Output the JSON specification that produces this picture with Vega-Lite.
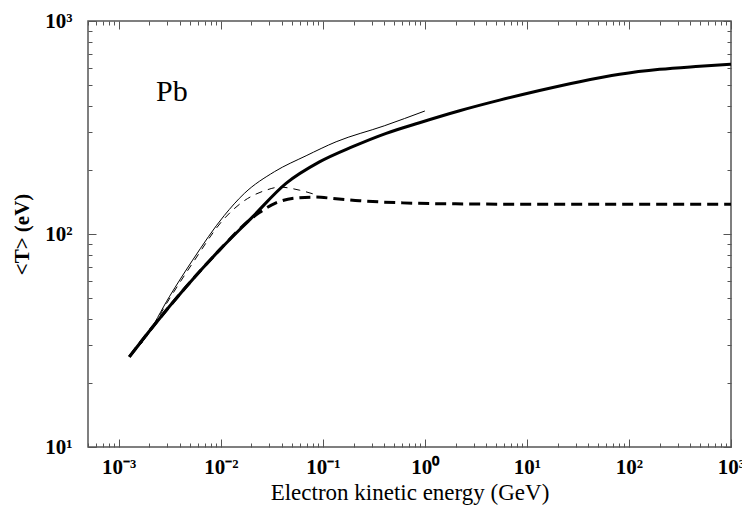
{
  "$schema": "https://vega.github.io/schema/vega-lite/v6.json",
  "width": 643,
  "height": 426,
  "autosize": "none",
  "padding": {"left": 88, "top": 21, "right": 11, "bottom": 64},
  "background": "white",
  "config": {
    "view": {"stroke": "#555", "strokeWidth": 1.5},
    "axis": {
      "grid": false,
      "domain": false,
      "tickColor": "#555",
      "tickWidth": 1,
      "labelFont": "Liberation Serif",
      "titleFont": "Liberation Serif",
      "labelColor": "black",
      "titleColor": "black",
      "labelFlush": false,
      "labelOverlap": false
    }
  },
  "datasets": {
    "thickSolid": [
      {"E": 0.00127, "T": 26.5}, {"E": 0.00215, "T": 36.6}, {"E": 0.00456, "T": 56.4},
      {"E": 0.0097, "T": 84}, {"E": 0.0205, "T": 120.4}, {"E": 0.0436, "T": 172.8},
      {"E": 0.0927, "T": 218}, {"E": 0.196, "T": 257}, {"E": 0.418, "T": 297},
      {"E": 0.887, "T": 333}, {"E": 2.19, "T": 379}, {"E": 5.4, "T": 425},
      {"E": 13.3, "T": 472}, {"E": 32.9, "T": 519}, {"E": 81, "T": 562},
      {"E": 200, "T": 593}, {"E": 494, "T": 613}, {"E": 1000, "T": 627}
    ],
    "thinSolid": [
      {"E": 0.00127, "T": 26.5}, {"E": 0.00185, "T": 32.9}, {"E": 0.00313, "T": 50.7},
      {"E": 0.0053, "T": 75.4}, {"E": 0.0108, "T": 122}, {"E": 0.017, "T": 155},
      {"E": 0.0335, "T": 196}, {"E": 0.0686, "T": 233}, {"E": 0.135, "T": 271},
      {"E": 0.4, "T": 322}, {"E": 1.0, "T": 378}
    ],
    "thickDashed": [
      {"E": 0.00127, "T": 26.5}, {"E": 0.00215, "T": 36.6}, {"E": 0.00456, "T": 56.4},
      {"E": 0.0097, "T": 84}, {"E": 0.019, "T": 116}, {"E": 0.0239, "T": 126},
      {"E": 0.0348, "T": 140}, {"E": 0.0589, "T": 148}, {"E": 0.085, "T": 149},
      {"E": 0.125, "T": 147}, {"E": 0.229, "T": 143.3}, {"E": 0.6, "T": 140},
      {"E": 2, "T": 138.5}, {"E": 10, "T": 138}, {"E": 1000, "T": 138}
    ],
    "thinDashed": [
      {"E": 0.00127, "T": 26.5}, {"E": 0.00185, "T": 32.7}, {"E": 0.00313, "T": 49.5},
      {"E": 0.0053, "T": 73}, {"E": 0.0108, "T": 118}, {"E": 0.0164, "T": 141.6},
      {"E": 0.0278, "T": 160.6}, {"E": 0.0377, "T": 166}, {"E": 0.0592, "T": 160.6},
      {"E": 0.083, "T": 153.5}
    ],
    "label": [{"E": 0.00232, "T": 422, "text": "Pb"}]
  },
  "resolve": {"axis": {"x": "independent", "y": "independent"}},
  "layer": [
    {
      "data": {"name": "thickSolid"},
      "mark": {"type": "line", "color": "black", "strokeWidth": 3, "interpolate": "monotone"},
      "encoding": {
        "x": {
          "field": "E", "type": "quantitative",
          "scale": {"type": "log", "domain": [0.0005, 1000], "nice": false},
          "axis": {
            "orient": "bottom",
            "values": [0.001, 0.01, 0.1, 1, 10, 100, 1000],
            "tickSize": -8,
            "labelFontSize": 21,
            "labelFontWeight": "bold",
            "labelPadding": 17,
            "labelExpr": "datum.value < 0.005 ? '10⁻³' : datum.value < 0.05 ? '10⁻²' : datum.value < 0.5 ? '10⁻¹' : datum.value < 5 ? '10⁰' : datum.value < 50 ? '10¹' : datum.value < 500 ? '10²' : '10³'",
            "title": "Electron kinetic energy (GeV)",
            "titleFontSize": 23,
            "titleFontWeight": "normal",
            "titlePadding": 4
          }
        },
        "y": {
          "field": "T", "type": "quantitative",
          "scale": {"type": "log", "domain": [10, 1000], "nice": false},
          "axis": {
            "orient": "left",
            "values": [10, 100, 1000],
            "tickSize": -8,
            "labelFontSize": 21,
            "labelFontWeight": "bold",
            "labelPadding": 24,
            "labelExpr": "datum.value < 50 ? '10¹' : datum.value < 500 ? '10²' : '10³'",
            "title": "<T> (eV)",
            "titleFontSize": 21,
            "titleFontWeight": "bold",
            "titlePadding": 12
          }
        }
      }
    },
    {
      "data": {"name": "thinSolid"},
      "mark": {"type": "line", "color": "black", "strokeWidth": 1, "interpolate": "monotone"},
      "encoding": {
        "x": {
          "field": "E", "type": "quantitative",
          "scale": {"type": "log", "domain": [0.0005, 1000], "nice": false},
          "axis": {
            "orient": "bottom",
            "values": [0.0005, 0.0006, 0.0007, 0.0008, 0.0009,
              0.002, 0.003, 0.004, 0.005, 0.006, 0.007, 0.008, 0.009,
              0.02, 0.03, 0.04, 0.05, 0.06, 0.07, 0.08, 0.09,
              0.2, 0.3, 0.4, 0.5, 0.6, 0.7, 0.8, 0.9,
              2, 3, 4, 5, 6, 7, 8, 9,
              20, 30, 40, 50, 60, 70, 80, 90,
              200, 300, 400, 500, 600, 700, 800, 900],
            "tickSize": -4,
            "labels": false,
            "title": null
          }
        },
        "y": {
          "field": "T", "type": "quantitative",
          "scale": {"type": "log", "domain": [10, 1000], "nice": false},
          "axis": {
            "orient": "left",
            "values": [20, 30, 40, 50, 60, 70, 80, 90, 200, 300, 400, 500, 600, 700, 800, 900],
            "tickSize": -4,
            "labels": false,
            "title": null
          }
        }
      }
    },
    {
      "data": {"name": "thickDashed"},
      "mark": {"type": "line", "color": "black", "strokeWidth": 3, "strokeDash": [11, 6], "interpolate": "monotone"},
      "encoding": {
        "x": {
          "field": "E", "type": "quantitative",
          "scale": {"type": "log", "domain": [0.0005, 1000], "nice": false},
          "axis": {
            "orient": "top",
            "values": [0.001, 0.01, 0.1, 1, 10, 100, 1000],
            "tickSize": -8,
            "labels": false,
            "title": null
          }
        },
        "y": {
          "field": "T", "type": "quantitative",
          "scale": {"type": "log", "domain": [10, 1000], "nice": false},
          "axis": {
            "orient": "right",
            "values": [10, 100, 1000],
            "tickSize": -8,
            "labels": false,
            "title": null
          }
        }
      }
    },
    {
      "data": {"name": "thinDashed"},
      "mark": {"type": "line", "color": "black", "strokeWidth": 1, "strokeDash": [7, 6], "interpolate": "monotone"},
      "encoding": {
        "x": {
          "field": "E", "type": "quantitative",
          "scale": {"type": "log", "domain": [0.0005, 1000], "nice": false},
          "axis": {
            "orient": "top",
            "values": [0.0005, 0.0006, 0.0007, 0.0008, 0.0009,
              0.002, 0.003, 0.004, 0.005, 0.006, 0.007, 0.008, 0.009,
              0.02, 0.03, 0.04, 0.05, 0.06, 0.07, 0.08, 0.09,
              0.2, 0.3, 0.4, 0.5, 0.6, 0.7, 0.8, 0.9,
              2, 3, 4, 5, 6, 7, 8, 9,
              20, 30, 40, 50, 60, 70, 80, 90,
              200, 300, 400, 500, 600, 700, 800, 900],
            "tickSize": -4,
            "labels": false,
            "title": null
          }
        },
        "y": {
          "field": "T", "type": "quantitative",
          "scale": {"type": "log", "domain": [10, 1000], "nice": false},
          "axis": {
            "orient": "right",
            "values": [20, 30, 40, 50, 60, 70, 80, 90, 200, 300, 400, 500, 600, 700, 800, 900],
            "tickSize": -4,
            "labels": false,
            "title": null
          }
        }
      }
    },
    {
      "data": {"name": "label"},
      "mark": {"type": "text", "font": "Liberation Serif", "fontSize": 30, "align": "left", "baseline": "alphabetic", "color": "black"},
      "encoding": {
        "x": {"field": "E", "type": "quantitative", "scale": {"type": "log", "domain": [0.0005, 1000], "nice": false}, "axis": null},
        "y": {"field": "T", "type": "quantitative", "scale": {"type": "log", "domain": [10, 1000], "nice": false}, "axis": null},
        "text": {"field": "text"}
      }
    }
  ]
}
